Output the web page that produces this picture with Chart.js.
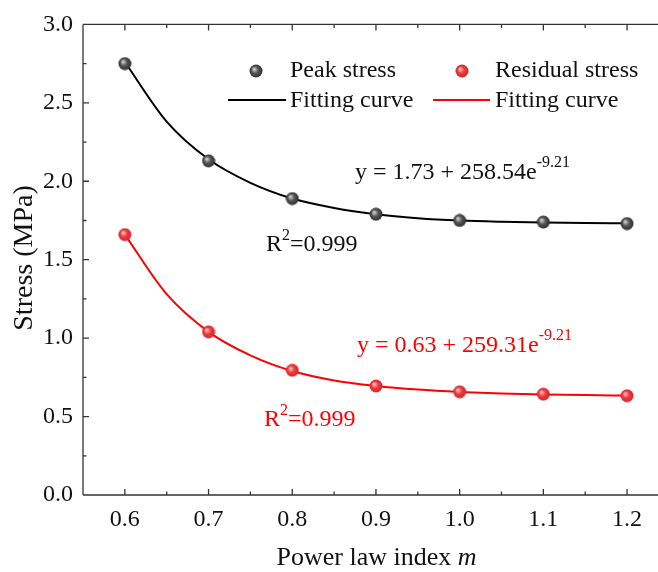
<!DOCTYPE html>
<html lang="en">
<head>
    <meta charset="UTF-8">
    <title>Stress vs power law index</title>
    <script src="https://cdn.jsdelivr.net/npm/chart.js"></script>
    <style>
        html, body { margin: 0; padding: 0; background: #fff; overflow: hidden; }
        #wrap { width: 658px; height: 572px; }
    </style>
</head>
<body>
<div id="wrap"><canvas id="stressChart" width="658" height="572"></canvas></div>

<script>
    // Data
    const powerIndex = [0.6, 0.7, 0.8, 0.9, 1.0, 1.1, 1.2];
    const peakStress = [2.75, 2.13, 1.89, 1.79, 1.75, 1.74, 1.73];
    const residualStress = [1.66, 1.04, 0.795, 0.695, 0.658, 0.643, 0.633];
    // fitted curves
    const curveX = [0.6, 0.65, 0.7, 0.75, 0.8, 0.85, 0.9, 0.95, 1.0, 1.05, 1.1, 1.15, 1.2];
    const peakCurve = [2.76, 2.38, 2.14, 1.99, 1.89, 1.83, 1.79, 1.765, 1.75, 1.742, 1.737, 1.734, 1.732];
    const residualCurve = [1.66, 1.28, 1.04, 0.89, 0.79, 0.73, 0.695, 0.672, 0.657, 0.647, 0.641, 0.637, 0.634];
    const xTickValues = [0.6, 0.7, 0.8, 0.9, 1.0, 1.1, 1.2];
    const yTickValues = [0.0, 0.5, 1.0, 1.5, 2.0, 2.5, 3.0];

    const FONT = "'Liberation Serif', 'Times New Roman', serif";
    const RED = '#ff0000';

    // shaded sphere marker
    function sphere(base, light, dark) {
        const c = document.createElement('canvas');
        c.width = 14; c.height = 14;
        const g = c.getContext('2d');
        const grad = g.createRadialGradient(5, 5, 0.5, 7, 7, 7);
        grad.addColorStop(0, light);
        grad.addColorStop(0.45, base);
        grad.addColorStop(1, dark);
        g.fillStyle = grad;
        g.beginPath();
        g.arc(7, 7, 6.5, 0, Math.PI * 2);
        g.fill();
        return c;
    }
    const greyBall = sphere('#555555', '#d0d0d0', '#2a2a2a');
    const redBall = sphere('#ee3a3e', '#ffc0c0', '#d02428');

    const pts = (xs, ys) => xs.map((x, i) => ({x: x, y: ys[i]}));

    // inward ticks, frame, titles, legend and equations
    const decorPlugin = {
        id: 'decor',
        afterDraw(chart) {
            const ctx = chart.ctx;
            const a = chart.chartArea;
            const xs = chart.scales.x, ys = chart.scales.y;
            const right = xs.getPixelForValue(1.25);
            ctx.save();
            ctx.strokeStyle = '#333';
            ctx.lineWidth = 1.3;
            ctx.beginPath();
            ctx.moveTo(a.left, a.bottom); ctx.lineTo(right, a.bottom);
            ctx.moveTo(a.left, a.top); ctx.lineTo(right, a.top);
            ctx.moveTo(a.left, a.top); ctx.lineTo(a.left, a.bottom);
            xTickValues.forEach(v => {
                const px = xs.getPixelForValue(v);
                ctx.moveTo(px, a.bottom); ctx.lineTo(px, a.bottom - 6);
                ctx.moveTo(px, a.top); ctx.lineTo(px, a.top + 6);
                const mx = xs.getPixelForValue(v + 0.05);
                ctx.moveTo(mx, a.bottom); ctx.lineTo(mx, a.bottom - 3.5);
                ctx.moveTo(mx, a.top); ctx.lineTo(mx, a.top + 3.5);
            });
            yTickValues.forEach(v => {
                const py = ys.getPixelForValue(v);
                ctx.moveTo(a.left, py); ctx.lineTo(a.left + 6, py);
                if (v < 3) {
                    const my = ys.getPixelForValue(v + 0.25);
                    ctx.moveTo(a.left, my); ctx.lineTo(a.left + 3.5, my);
                }
            });
            ctx.stroke();

            // axis titles
            ctx.fillStyle = '#111';
            ctx.textBaseline = 'middle';
            const t1 = 'Power law index ';
            ctx.font = 'italic 26px ' + FONT;
            const wm = ctx.measureText('m').width;
            ctx.font = '26px ' + FONT;
            const w1 = ctx.measureText(t1).width;
            const x0 = 376.5 - (w1 + wm) / 2;
            ctx.textAlign = 'left';
            ctx.fillText(t1, x0, 558);
            ctx.font = 'italic 26px ' + FONT;
            ctx.fillText('m', x0 + w1, 558);

            ctx.save();
            ctx.translate(25, 258);
            ctx.rotate(-Math.PI / 2);
            ctx.textAlign = 'center';
            ctx.font = '28px ' + FONT;
            ctx.fillText('Stress (MPa)', 0, 0);
            ctx.restore();

            // legend
            ctx.textAlign = 'left';
            ctx.font = '24px ' + FONT;
            ctx.fillStyle = '#111';
            ctx.drawImage(greyBall, 249, 64);
            ctx.fillText('Peak stress', 290, 71);
            ctx.drawImage(redBall, 455, 64);
            ctx.fillText('Residual stress', 495, 71);
            ctx.lineWidth = 2;
            ctx.strokeStyle = '#000';
            ctx.beginPath(); ctx.moveTo(228, 100); ctx.lineTo(286, 100); ctx.stroke();
            ctx.fillText('Fitting curve', 290, 101);
            ctx.strokeStyle = RED;
            ctx.beginPath(); ctx.moveTo(433, 100); ctx.lineTo(490, 100); ctx.stroke();
            ctx.fillText('Fitting curve', 495, 101);

            // equations
            function eq(x, y, main, sup, color) {
                ctx.fillStyle = color;
                ctx.font = '24px ' + FONT;
                ctx.fillText(main, x, y);
                const w = ctx.measureText(main).width;
                ctx.font = '16px ' + FONT;
                ctx.fillText(sup, x + w, y - 10);
            }
            function r2(x, y, color) {
                ctx.fillStyle = color;
                ctx.font = '24px ' + FONT;
                ctx.fillText('R', x, y);
                const w = ctx.measureText('R').width;
                ctx.font = '16px ' + FONT;
                ctx.fillText('2', x + w, y - 9);
                const w2 = ctx.measureText('2').width;
                ctx.font = '24px ' + FONT;
                ctx.fillText('=0.999', x + w + w2, y);
            }
            eq(355, 173, 'y = 1.73 + 258.54e', '-9.21', '#111');
            r2(266, 245, '#111');
            eq(357, 346, 'y = 0.63 + 259.31e', '-9.21', RED);
            r2(264, 420, RED);
            ctx.restore();
        }
    };

    new Chart(document.getElementById('stressChart'), {
        type: 'scatter',
        data: {
            datasets: [
                {
                    label: 'Fitting curve (peak)',
                    type: 'line',
                    data: pts(curveX, peakCurve),
                    borderColor: '#000',
                    borderWidth: 2,
                    pointRadius: 0,
                    cubicInterpolationMode: 'monotone',
                    order: 2
                },
                {
                    label: 'Fitting curve (residual)',
                    type: 'line',
                    data: pts(curveX, residualCurve),
                    borderColor: RED,
                    borderWidth: 2,
                    pointRadius: 0,
                    cubicInterpolationMode: 'monotone',
                    order: 2
                },
                {
                    label: 'Peak stress',
                    data: pts(powerIndex, peakStress),
                    pointStyle: greyBall,
                    order: 1
                },
                {
                    label: 'Residual stress',
                    data: pts(powerIndex, residualStress),
                    pointStyle: redBall,
                    order: 1
                }
            ]
        },
        options: {
            responsive: false,
            animation: false,
            layout: { padding: { top: 20, right: 0, left: 0, bottom: 0 } },
            plugins: { legend: { display: false }, tooltip: { enabled: false } },
            scales: {
                x: {
                    type: 'linear',
                    min: 0.55,
                    max: 1.231,
                    afterBuildTicks: s => { s.ticks = xTickValues.map(v => ({value: v})); },
                    afterFit: s => { s.height = 77; },
                    grid: { display: false, drawTicks: false },
                    border: { display: false },
                    ticks: {
                        padding: 10,
                        color: '#111',
                        font: { family: FONT, size: 24 },
                        callback: v => Number(v).toFixed(1)
                    }
                },
                y: {
                    min: 0,
                    max: 3.0,
                    afterBuildTicks: s => { s.ticks = yTickValues.map(v => ({value: v})); },
                    afterFit: s => { s.width = 83; },
                    grid: { display: false, drawTicks: false },
                    border: { display: false },
                    ticks: {
                        padding: 10,
                        color: '#111',
                        font: { family: FONT, size: 24 },
                        callback: v => Number(v).toFixed(1)
                    }
                }
            }
        },
        plugins: [decorPlugin]
    });
</script>
</body>
</html>
